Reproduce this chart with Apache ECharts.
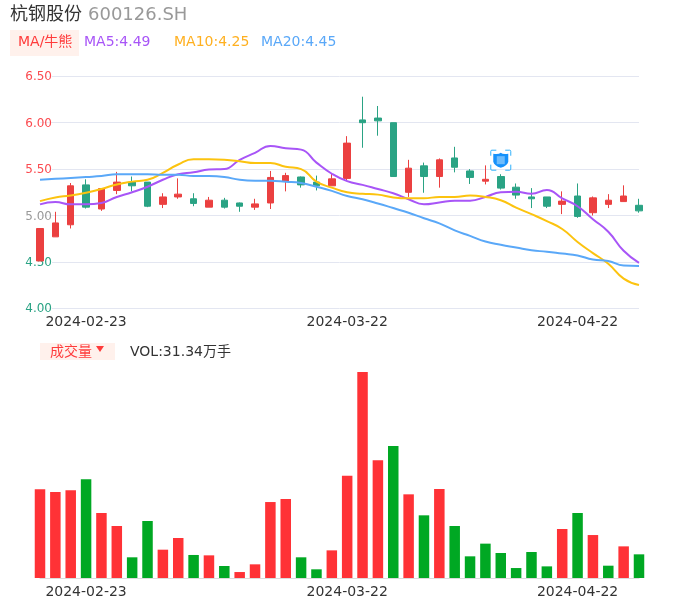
<!DOCTYPE html>
<html><head><meta charset="utf-8">
<style>html,body{margin:0;padding:0;background:#fff}#c{width:686px;height:606px}</style>
<script src="https://cdn.jsdelivr.net/npm/echarts@6/dist/echarts.min.js"></script>
</head><body><div id="c"></div>
<script>
const categories = ['2024-02-20','2024-02-21','2024-02-22','2024-02-23','2024-02-26','2024-02-27','2024-02-28','2024-02-29','2024-03-01','2024-03-04','2024-03-05','2024-03-06','2024-03-07','2024-03-08','2024-03-11','2024-03-12','2024-03-13','2024-03-14','2024-03-15','2024-03-21','2024-03-22','2024-03-25','2024-03-26','2024-03-27','2024-03-28','2024-03-29','2024-04-01','2024-04-02','2024-04-03','2024-04-08','2024-04-09','2024-04-10','2024-04-11','2024-04-12','2024-04-19','2024-04-22','2024-04-23','2024-04-24','2024-04-25','2024-04-26'];
const tickLabels = ['2024-02-23','2024-03-22','2024-04-22'];
const yTicks = {min:4, max:6.5, step:0.5};
// [open, close, low, high]
const candles = [
[4.51,4.86,4.51,4.86],[4.77,4.92,4.77,5.04],[4.90,5.32,4.86,5.35],[5.33,5.09,5.075,5.39],
[5.07,5.29,5.05,5.29],[5.27,5.36,5.23,5.47],[5.36,5.32,5.26,5.42],[5.36,5.10,5.09,5.36],
[5.12,5.20,5.08,5.24],[5.20,5.23,5.18,5.40],[5.18,5.13,5.10,5.24],[5.09,5.165,5.09,5.20],
[5.165,5.09,5.075,5.19],[5.135,5.10,5.04,5.14],[5.09,5.125,5.06,5.18],[5.135,5.41,5.07,5.48],
[5.37,5.43,5.26,5.46],[5.415,5.33,5.30,5.42],[5.36,5.32,5.27,5.43],[5.32,5.395,5.32,5.45],
[5.40,5.78,5.38,5.855],[6.03,6.00,5.73,6.28],[6.05,6.02,5.86,6.18],[6.00,5.42,5.42,6.00],
[5.25,5.51,5.20,5.60],[5.535,5.42,5.245,5.57],[5.42,5.60,5.30,5.615],[5.62,5.52,5.465,5.74],
[5.48,5.41,5.34,5.50],[5.37,5.39,5.335,5.54],[5.42,5.295,5.28,5.445],[5.305,5.22,5.18,5.345],
[5.20,5.18,5.08,5.295],[5.20,5.10,5.08,5.20],[5.12,5.155,5.015,5.26],[5.21,4.99,4.975,5.345],
[5.03,5.19,5.00,5.205],[5.12,5.165,5.08,5.23],[5.15,5.21,5.15,5.325],[5.11,5.05,5.03,5.18]];
const ma5 = [5.12,5.145,5.12,5.12,5.135,5.20,5.25,5.31,5.385,5.445,5.465,5.495,5.50,5.60,5.675,5.75,5.725,5.71,5.57,5.45,5.37,5.33,5.285,5.24,5.175,5.12,5.14,5.16,5.16,5.20,5.25,5.255,5.235,5.275,5.185,5.10,4.96,4.825,4.62,4.49];
const ma10 = [5.155,5.195,5.215,5.245,5.285,5.335,5.365,5.385,5.46,5.55,5.605,5.605,5.60,5.585,5.565,5.565,5.525,5.50,5.365,5.30,5.25,5.235,5.225,5.195,5.185,5.185,5.20,5.20,5.215,5.20,5.165,5.085,5.015,4.94,4.855,4.715,4.595,4.48,4.32,4.25];
const ma20 = [5.385,5.395,5.405,5.415,5.425,5.445,5.445,5.445,5.44,5.44,5.425,5.425,5.415,5.385,5.375,5.375,5.365,5.35,5.31,5.265,5.21,5.175,5.13,5.08,5.03,4.97,4.915,4.84,4.78,4.72,4.685,4.655,4.625,4.61,4.59,4.57,4.525,4.51,4.46,4.455];
const volumes = [117.4,113.9,116.1,130.7,86.1,68.9,27.4,75.5,37.5,53.0,30.5,30.0,15.9,7.9,18.1,100.6,104.6,27.4,11.5,36.6,135.5,272.8,155.8,174.8,110.8,83.0,117.9,68.9,28.7,45.5,33.1,13.2,34.4,15.4,64.9,86.1,56.9,16.3,41.9,31.34];
const volumeUp = [1,1,1,0,1,1,0,0,1,1,0,1,0,1,1,1,1,0,0,1,1,1,1,0,1,0,1,0,0,0,0,0,0,0,1,0,1,0,1,0];
const stockName = '杭钢股份', stockCode = '600126.SH';
const maTabLabel = 'MA/牛熊', volTabLabel = '成交量';
const maLabels = ['MA5:4.49','MA10:4.25','MA20:4.45'];
const volLabel = 'VOL:31.34万手';
const badgePoint = [30, 5.596];

const FONT = '"DejaVu Sans","Noto Sans CJK SC",sans-serif';
const RED='#eb4040', GREEN='#2aa384', VR='#ff3236', VG='#00a823';
const C5='#a855f7', C10='#fcc30f', C20='#5aa8f8';
const txt=(x,y,text,size,fill,extra)=>({type:'text',x,y,silent:true,style:Object.assign({text,fontSize:size,fill,fontFamily:FONT,textVerticalAlign:'middle',verticalAlign:'middle'},extra||{})});
const lineSeries=(name,data,color)=>({name,type:'line',data,xAxisIndex:0,yAxisIndex:0,smooth:0.5,showSymbol:false,symbol:'none',clip:false,z:5,lineStyle:{color,width:2}});
const xLabelFn=(v)=>tickLabels.includes(v);
const chart = echarts.init(document.getElementById('c'),null,{renderer:'canvas'});
chart.setOption({
  animation:false,
  backgroundColor:'#fff',
  textStyle:{fontFamily:FONT},
  grid:[{left:40,top:76.3,width:599,height:232},{left:40,top:372,width:599,height:206}],
  xAxis:[0,1].map(i=>({type:'category',gridIndex:i,data:categories,boundaryGap:false,
    axisTick:{show:false},splitLine:{show:false},
    axisLine:{show:i===1,lineStyle:{color:'#dcdcdc',width:1}},
    axisLabel:{show:true,interval:(idx,v)=>xLabelFn(v),color:'#333',fontSize:14,margin:7,fontFamily:FONT,hideOverlap:false}})),
  yAxis:[
    {type:'value',gridIndex:0,min:yTicks.min,max:yTicks.max,interval:yTicks.step,scale:true,
     axisLine:{show:false},axisTick:{show:false},
     splitLine:{show:true,lineStyle:{color:'#e3e6f1',width:1}},
     axisLabel:{margin:-12,fontSize:12,fontFamily:FONT,backgroundColor:'#fff',verticalAlign:'top',lineHeight:2,
       formatter:v=>v.toFixed(2),
       color:v=>v>5?'#fb4a4f':(v<5?'#2aa384':'#999')}},
    {type:'value',gridIndex:1,min:0,max:272.8,show:false,splitLine:{show:false}}
  ],
  series:[
    {type:'candlestick',name:'K',xAxisIndex:0,yAxisIndex:0,data:candles,barWidth:7,clip:false,z:3,
     itemStyle:{color:RED,color0:GREEN,borderColor:RED,borderColor0:GREEN,borderWidth:1},
     markPoint:{silent:true,animation:false,label:{show:false},z:8,data:[
       {coord:badgePoint,symbol:'path://M1 6V2Q1 1 2 1H6M14 1H18Q19 1 19 2V6M19 14V18Q19 19 18 19H14M6 19H2Q1 19 1 18V14',symbolSize:20,itemStyle:{color:'none',borderColor:'#2fb0fb',borderWidth:1}},
       {coord:badgePoint,symbol:'path://M0 1Q5 2 7 0Q9 2 14 1V9Q13 13 7 15Q1 13 0 9Z',symbolSize:[15,15],itemStyle:{color:'#1591fb'}},
       {coord:badgePoint,symbol:'rect',symbolSize:[8,8],itemStyle:{color:'#6dbcfc'}}
     ]}},
    lineSeries('MA5',ma5,C5),
    lineSeries('MA10',ma10,C10),
    lineSeries('MA20',ma20,C20),
    {type:'bar',name:'VOL',xAxisIndex:1,yAxisIndex:1,barWidth:10.5,clip:false,z:3,
     data:volumes.map((v,i)=>({value:v,itemStyle:{color:volumeUp[i]?VR:VG}}))}
  ],
  graphic:[
    txt(10,15,stockName,18,'#333'),
    txt(88,15,stockCode,18,'#999'),
    {type:'rect',silent:true,shape:{x:10,y:30,width:69,height:26},style:{fill:'#fff1ec'}},
    txt(18,42,maTabLabel,14,'#ff3b3b'),
    txt(84,42,maLabels[0],14,C5),
    txt(174,42,maLabels[1],14,'#ffb020'),
    txt(261,42,maLabels[2],14,C20),
    {type:'rect',silent:true,shape:{x:40,y:343,width:75,height:17},style:{fill:'#fff1ec'}},
    txt(50,352,volTabLabel,14,'#ff3b3b'),
    {type:'polygon',silent:true,shape:{points:[[96,346],[104,346],[100,352]]},style:{fill:'#ff3b3b'}},
    txt(130,352,volLabel,14,'#333')
  ]
});
</script></body></html>
